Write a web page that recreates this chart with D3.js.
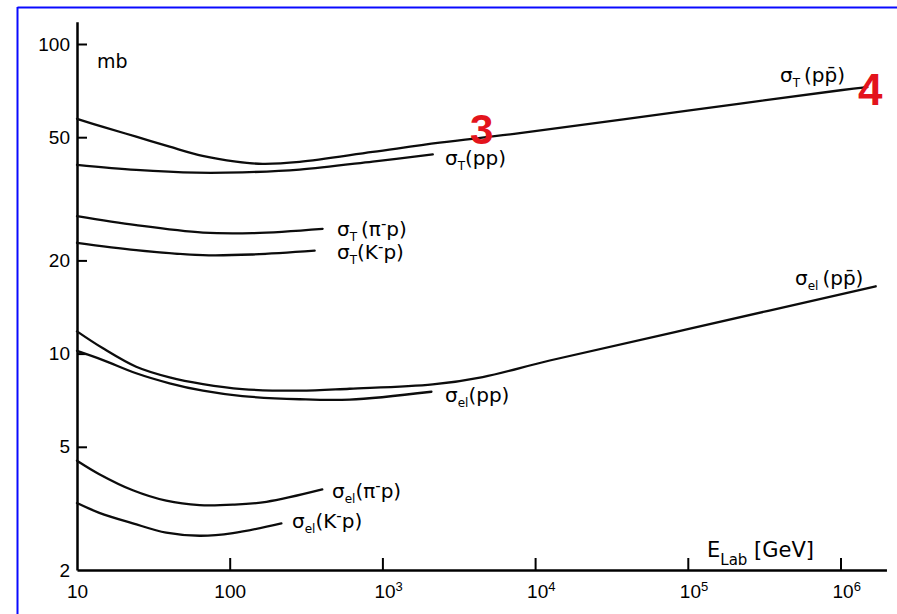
<!DOCTYPE html>
<html>
<head>
<meta charset="utf-8">
<script src="https://cdnjs.cloudflare.com/ajax/libs/d3/7.8.5/d3.min.js"></script>
<style>
  body { margin: 0; background: #fff; }
  svg { display: block; font-family: "DejaVu Sans", sans-serif; }
</style>
</head>
<body>
<div id="chart"></div>
<script>
// page size
var width = 897, height = 614;

// axis ticks
var yTicks = [100, 50, 20, 10, 5, 2];
var xTicks = [10, 100, 1e3, 1e4, 1e5, 1e6];

// curves: lab energy (GeV) and cross section (mb)
var sigTppbarE = [10, 14.8, 24.4, 40.4, 66.4, 110, 164, 287, 863, 2371, 7943, 1e5, 1e6, 1.5e6];
var sigTppbar  = [57.3, 54.0, 50.2, 46.6, 43.5, 41.7, 41.0, 41.6, 44.8, 48.0, 51.5, 60.9, 70.9, 72.6];

var sigTppE = [10, 24.4, 60.4, 121, 287, 863, 2138];
var sigTpp  = [40.7, 39.2, 38.4, 38.5, 39.3, 41.7, 44.0];

var sigTpimE = [10, 24.4, 66.8, 141, 406];
var sigTpim  = [27.8, 26.0, 24.6, 24.5, 25.3];

var sigTKmE = [10, 24.4, 66.8, 141, 360];
var sigTKm  = [22.8, 21.6, 20.8, 20.9, 21.5];

var sigElppbarE = [10, 14.8, 24.4, 40.4, 66.8, 121, 287, 610, 2136, 4540, 12470, 1e5, 1.7e6];
var sigElppbar  = [11.8, 10.4, 9.07, 8.38, 7.97, 7.68, 7.59, 7.70, 7.95, 8.40, 9.50, 12.0, 16.5];

var sigElppE = [10, 14.8, 24.4, 40.4, 66.8, 121, 287, 610, 2094];
var sigElpp  = [10.2, 9.53, 8.64, 8.02, 7.59, 7.29, 7.12, 7.10, 7.53];

var sigElpimE = [10, 14.0, 23.2, 38.4, 63.5, 105, 174, 404];
var sigElpim  = [4.51, 4.08, 3.62, 3.35, 3.24, 3.25, 3.32, 3.64];

var sigElKmE = [10, 14.0, 23.2, 38.4, 63.5, 105, 218];
var sigElKm  = [3.29, 3.06, 2.83, 2.64, 2.58, 2.63, 2.83];

// curve labels: subscript and reaction pieces ("sup" = small raised minus)
var curveLabels = [
  {sub: "T",  reac: [["\u2009(p"], ["p\u0304"], [")"]]},
  {sub: "T",  reac: [["(pp)"]]},
  {sub: "T",  reac: [["\u2009(\u03c0"], ["-", "sup"], ["p)"]]},
  {sub: "T",  reac: [["(K"], ["-", "sup"], ["p)"]]},
  {sub: "el", reac: [["\u2009(p"], ["p\u0304"], [")"]]},
  {sub: "el", reac: [["(pp)"]]},
  {sub: "el", reac: [["(\u03c0"], ["-", "sup"], ["p)"]]},
  {sub: "el", reac: [["(K"], ["-", "sup"], ["p)"]]}
];
// where each label sits (left x, baseline y)
var labelPos = [[780, 82], [445, 165], [337, 236], [337, 259], [795, 285], [445, 402], [332, 498], [292, 528]];

var svg = d3.select("#chart").append("svg")
    .attr("width", width)
    .attr("height", height);

// blue frame round the scan (left and top only)
svg.append("line").attr("x1", 17.5).attr("x2", 17.5).attr("y1", 7).attr("y2", height)
    .attr("stroke", "#0a0aff").attr("stroke-width", 2);
svg.append("line").attr("x1", 17.5).attr("x2", width).attr("y1", 7.5).attr("y2", 7.5)
    .attr("stroke", "#0a0aff").attr("stroke-width", 2);

//scales - log on both axes
var x0 = 77, decX = 152.7;
var xscale = d3.scaleLog().domain([10, 2e6]).range([x0, x0 + decX * Math.log10(2e5)]);
var y0 = 570, decY = 309.6;
var yscale = d3.scaleLog().domain([2, 118]).range([y0, y0 - decY * Math.log10(59)]);

// y axis, ticks pointing inward
var yaxis = d3.axisLeft(yscale).tickValues(yTicks).tickFormat(d3.format("d"))
    .tickSizeInner(-10).tickSizeOuter(0).tickPadding(7);
var gy = svg.append("g").attr("transform", `translate(${x0},0)`).call(yaxis);
gy.select(".domain").attr("stroke-width", 2.5);
gy.selectAll(".tick line").attr("stroke-width", 2);
gy.selectAll(".tick").filter(d => d == 2).select("line").remove();
gy.selectAll(".tick text").attr("font-size", 19).attr("fill", "#000");

// x axis
var xaxis = d3.axisBottom(xscale).tickValues(xTicks).tickFormat("")
    .tickSizeInner(-12).tickSizeOuter(0).tickPadding(15);
var gx = svg.append("g").attr("transform", `translate(0,${y0})`).call(xaxis);
gx.select(".domain").attr("stroke-width", 2.5);
gx.selectAll(".tick line").attr("stroke-width", 2);
gx.selectAll(".tick").filter(d => d == 10).select("line").remove();
gx.selectAll(".tick text").attr("font-size", 19).attr("fill", "#000").each(function(d){
  var t = d3.select(this);
  var p = Math.round(Math.log10(d));
  if (p <= 2) { t.text(d); return; }
  t.attr("dx", "0.3em");
  t.append("tspan").text("10");
  t.append("tspan").attr("font-size", 13).attr("dy", "-0.55em").text(p);
});

// unit labels
svg.append("text").attr("x", 97).attr("y", 68).attr("font-size", 19).attr("fill", "#000").text("mb");
var el = svg.append("text").attr("x", 707).attr("y", 557).attr("font-size", 21).attr("fill", "#000");
el.append("tspan").text("E");
el.append("tspan").attr("font-size", 15).attr("dy", 8).text("Lab");
el.append("tspan").attr("dy", -8).text(" [GeV]");

// curves
var line = d3.line()
    .x(d => xscale(d[0]))
    .y(d => yscale(d[1]))
    .curve(d3.curveCatmullRom.alpha(0.5));

var curves = [
  [sigTppbarE, sigTppbar], [sigTppE, sigTpp], [sigTpimE, sigTpim], [sigTKmE, sigTKm],
  [sigElppbarE, sigElppbar], [sigElppE, sigElpp], [sigElpimE, sigElpim], [sigElKmE, sigElKm]
];

svg.append("g").selectAll("path")
  .data(curves)
  .join("path")
    .attr("d", c => line(d3.zip(c[0], c[1])))
    .attr("fill", "none")
    .attr("stroke", "#0c0c0c")
    .attr("stroke-width", 2.3)
    .attr("stroke-linecap", "round");

// curve labels
curveLabels.forEach(function(lab, i){
  var t = svg.append("text").attr("x", labelPos[i][0]).attr("y", labelPos[i][1])
      .attr("font-size", 20).attr("fill", "#000");
  t.append("tspan").text("\u03c3");
  t.append("tspan").attr("font-size", 12).attr("dy", 5).text(lab.sub);
  var shift = -5;
  lab.reac.forEach(function(r){
    var s = t.append("tspan").text(r[0]);
    if (r[1] == "sup") {
      s.attr("font-size", 15).attr("dy", shift - 7);
      shift = 7;
    } else {
      s.attr("dy", shift);
      shift = 0;
    }
  });
});

// red markers
svg.append("text").attr("x", 470).attr("y", 144).attr("font-family", "Liberation Sans, Arial, sans-serif")
    .attr("font-weight", "bold").attr("font-size", 42).attr("fill", "#e3141c").text("3");
svg.append("text").attr("x", 858).attr("y", 105).attr("font-family", "Liberation Sans, Arial, sans-serif")
    .attr("font-weight", "bold").attr("font-size", 44).attr("fill", "#e3141c").text("4");
</script>
</body>
</html>
